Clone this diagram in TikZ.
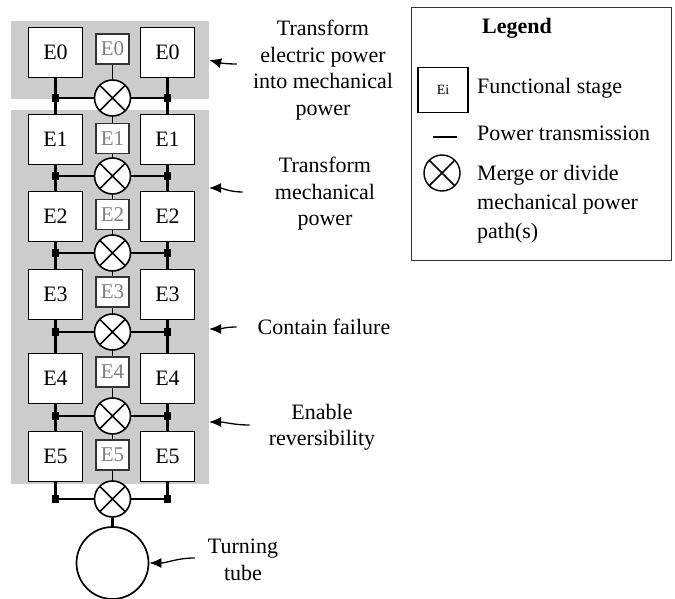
\documentclass[tikz,border=0pt]{standalone}
\usepackage{fontspec}
\setmainfont{Liberation Serif}
\usetikzlibrary{arrows.meta, positioning, calc}
\definecolor{panelgray}{HTML}{CCCCCC}
\definecolor{subtext}{HTML}{808080}

\begin{document}
\begin{tikzpicture}[x=1pt, y=-1pt,
  stage/.style={rectangle, draw, line width=1.7pt, fill=white, minimum width=54pt, minimum height=50pt,
                inner sep=0pt, font=\fontsize{22}{26}\selectfont},
  substage/.style={rectangle, draw=black!80, line width=1.5pt, fill=white, text=subtext,
                   minimum width=33pt, minimum height=30pt, inner sep=0pt, font=\fontsize{21}{26}\selectfont},
  merge/.style={circle, draw, line width=1.6pt, fill=white, minimum size=36pt, inner sep=0pt,
                path picture={\draw[line width=1.6pt]
                  (path picture bounding box.north west) -- (path picture bounding box.south east)
                  (path picture bounding box.north east) -- (path picture bounding box.south west);}},
  junc/.style={rectangle, fill=black, minimum size=7.5pt, inner sep=0pt},
  panel/.style={rectangle, fill=panelgray, inner sep=0pt},
  lbl/.style={align=center, inner sep=2pt, font=\fontsize{22}{26.5}\selectfont},
  lblarrow/.style={-{Latex[length=12pt,width=10pt]}, line width=1.3pt},
  power/.style={line width=2.2pt},
  link/.style={line width=1.6pt},
]
  \useasboundingbox (0,0) rectangle (675,599);

  % grey groups
  \node[panel, minimum width=198pt, minimum height=78pt] (toppanel) at (110,60) {};
  \node[panel, minimum width=198pt, minimum height=374pt] (mainpanel) at (110,297) {};

  % stages, merges and junctions
  \foreach \i/\yb/\ys/\yc in {0/52.5/49/98, 1/139.5/138.5/176, 2/216.5/214.5/253,
                              3/294.5/292/332, 4/378.5/372/416, 5/456.5/455/499}{
    \node[stage] (L\i) at (55.5,\yb) {E\i};
    \node[stage] (R\i) at (167.5,\yb) {E\i};
    \node[substage] (S\i) at (112.5,\ys) {E\i};
    \node[merge] (M\i) at (112.5,\yc) {};
    \node[junc] (JL\i) at (55.5,\yc) {};
    \node[junc] (JR\i) at (167.5,\yc) {};
    \draw[power] (L\i) -- (JL\i);
    \draw[power] (R\i) -- (JR\i);
    \draw[link] (JL\i) -- (M\i);
    \draw[link] (M\i) -- (JR\i);
    \draw[link] (S\i) -- (M\i);
  }
  \foreach \i [evaluate=\i as \j using int(\i-1)] in {1,...,5}{
    \draw[power] (JL\j) -- (L\i);
    \draw[power] (JR\j) -- (R\i);
    \draw[link] (M\j) -- (S\i);
  }

  \node[circle, draw, line width=1.7pt, minimum size=72pt, inner sep=0pt] (tube) at (112.5,563) {};
  \draw[power] (M5) -- (tube);

  % functions
  \node[lbl] (lab0) at (323,70) {Transform\\electric power\\into mechanical\\power};
  \node[lbl] (lab1) at (325,194) {Transform\\mechanical\\power};
  \node[lbl] (lab3) at (324,327) {Contain failure};
  \node[lbl] (lab4) at (322,427) {Enable\\reversibility};
  \node[lbl] (lab5) at (243,560) {Turning\\tube};

  \coordinate (tip1) at (209,188);
  \coordinate (tip3) at (209,329);
  \coordinate (tip4) at (209,422);
  \draw[lblarrow] (lab0.west) ++(-14,-6) to[out=180,in=-15] (toppanel.east);
  \draw[lblarrow] (lab1.west) ++(-30,-2) to[out=180,in=0] (tip1);
  \draw[lblarrow] (lab3.west) ++(-19,0) to[out=180,in=0] (tip3);
  \draw[lblarrow] (lab4.west) ++(-17,-2) to[out=180,in=0] (tip4);
  \draw[lblarrow] (lab5.west) ++(-11,-2) to[out=180,in=0] (tube.east);

  % legend
  \node[rectangle, draw=black!80, line width=0.9pt, minimum width=260pt, minimum height=253pt] (legend) at (541,133.5) {};
  \node[lbl, font=\fontsize{22}{26}\selectfont\bfseries] (legtitle) at (517,28) {Legend};
  \node[stage, line width=1.4pt, minimum width=50pt, minimum height=45pt, font=\fontsize{14}{16}\selectfont] (legstage) at (443,90) {Ei};
  \node[lbl, anchor=west] (legstagetxt) at (475,88) {Functional stage};
  \coordinate (legA) at (433,137);
  \coordinate (legB) at (457,137);
  \draw[power] (legA) -- (legB);
  \node[lbl, anchor=west] (legpowertxt) at (475,133) {Power transmission};
  \node[merge, line width=1.4pt] (legmerge) at (442,173) {};
  \node[lbl, align=left, anchor=west, font=\fontsize{22}{29}\selectfont] (legmergetxt) at (475,204) {Merge or divide\\mechanical power\\path(s)};
\end{tikzpicture}
\end{document}
